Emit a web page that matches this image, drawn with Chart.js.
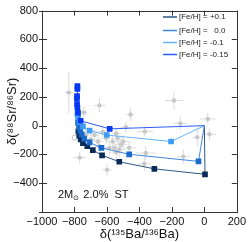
<!DOCTYPE html>
<html>
<head>
<meta charset="utf-8">
<script src="https://cdn.jsdelivr.net/npm/chart.js@4"></script>
<style>
  html, body { margin: 0; padding: 0; background: #fff; }
  #wrap { width: 249px; height: 242px; }
</style>
</head>
<body>
<div id="wrap"><canvas id="myChart" width="249" height="242"></canvas></div>
<script>
// axis ticks
let xTicks = [-1000, -800, -600, -400, -200, 0, 200];
let yTicks = [-600, -400, -200, 0, 200, 400, 600, 800];

// measured grains (grey, with error bars)
let grainX    = [-835, -742, -646, -455, -187, -148,  21,  31, -44, -130, -361, -367, -483, -542, -599, -646, -768, -370, -565, -534, -514, -585, -544, -500, -605, -656, -677, -626, -555, -463, -524, -731, -700];
let grainY    = [ 230,   92,  141,   78,  175,   16,  47, -60, -81, -215, -190,  -40,  -11, -184, -307, -143, -222, -265, -110,  -87, -132, -154,  -54, -110,  -87, -110,  -65,  -43, -154, -154, -166,  -65,  -95];
let grainXErr = [  25,   20,   35,   25,   55,   40,  50,  40,  35,   40,   60,   50,   35,   45,   30,   30,   40,   40,   40,   35,   35,   40,   30,   40,   35,   30,   30,   40,   35,   45,   40,   25,   30];
let grainYErr = [ 145,   40,   50,   45,   65,   50,  40,  40,  60,   50,   50,   35,   40,   60,   40,   50,   40,   50,   45,   40,   40,   50,   35,   45,   40,   45,   40,   35,   45,   45,   50,   40,   40];
let openX = [-799];
let openY = [-83];

// models, 2 Msun 2.0% ST
let labelsFeH = ["[Fe/H] = +0.1", "[Fe/H] =   0.0", "[Fe/H] = -0.1", "[Fe/H] = -0.15"];
let modelX1 = [0,    4, -308, -524, -630, -687, -721, -748, -762, -770, -776];
let modelY1 = [0, -338, -300, -251, -206, -170, -143, -121,  -95,  -70,  -40];
let modelX2 = [0,  -36, -463, -634, -707, -740, -755, -765, -772, -778];
let modelY2 = [0, -248, -199, -154, -116,  -90,  -60,  -35,  -10,   20];
let modelX3 = [0, -205, -601, -707, -748, -768, -778, -782];
let modelY3 = [0, -110,  -65,  -34,   -5,   25,   60,   80];
let modelX4 = [0, -583, -762, -778, -782, -784, -785, -784, -782, -782];
let modelY4 = [0,  -22,   34,   90,  125,  150,  190,  205,  255,  275];

let lineColors = ["#2f5585", "#3d88dc", "#66b3ff", "#2a5cff"];
let markColors = ["#0a2b58", "#1a6acb", "#3e9cf4", "#0638f2"];

function toPoints(xs, ys) {
	return xs.map((x, i) => ({ x: x, y: ys[i] }));
}
function fmt(v) {
	return String(v).replace("-", "\u2212");
}

const FONT = "'Liberation Sans', Arial, Helvetica, sans-serif";

// error bars behind the grey points
const errorBars = {
	id: "errorBars",
	beforeDatasetsDraw(chart) {
		const c = chart.ctx, xs = chart.scales.x, ys = chart.scales.y;
		c.save();
		c.strokeStyle = "#dcdcdc";
		c.lineWidth = 1;
		grainX.forEach((gx, i) => {
			const px = xs.getPixelForValue(gx), py = ys.getPixelForValue(grainY[i]);
			c.beginPath();
			c.moveTo(xs.getPixelForValue(gx - grainXErr[i]), py);
			c.lineTo(xs.getPixelForValue(gx + grainXErr[i]), py);
			c.moveTo(px, ys.getPixelForValue(grainY[i] - grainYErr[i]));
			c.lineTo(px, ys.getPixelForValue(grainY[i] + grainYErr[i]));
			c.stroke();
		});
		c.restore();
	}
};

// frame, inward ticks, legend and the label
const frame = {
	id: "frame",
	afterDraw(chart) {
		const c = chart.ctx, a = chart.chartArea, xs = chart.scales.x, ys = chart.scales.y;
		c.save();
		c.strokeStyle = "#333";
		c.lineWidth = 1;
		c.strokeRect(Math.round(a.left) + 0.5, Math.round(a.top) + 0.5, Math.round(a.right - a.left), Math.round(a.bottom - a.top));
		c.beginPath();
		xTicks.forEach((t) => {
			const px = Math.round(xs.getPixelForValue(t)) + 0.5;
			c.moveTo(px, a.bottom); c.lineTo(px, a.bottom - 5);
			c.moveTo(px, a.top); c.lineTo(px, a.top + 5);
		});
		yTicks.forEach((t) => {
			const py = Math.round(ys.getPixelForValue(t)) + 0.5;
			c.moveTo(a.left - 3, py); c.lineTo(a.left + 5, py);
			c.moveTo(a.right, py); c.lineTo(a.right - 5, py);
		});
		c.stroke();

		// legend
		c.font = "8px " + FONT;
		c.textBaseline = "middle";
		c.fillStyle = "#222";
		const rows = [17, 30.5, 42.5, 54.5];
		labelsFeH.forEach((lab, i) => {
			c.strokeStyle = lineColors[i];
			c.lineWidth = 1.5;
			c.beginPath();
			c.moveTo(163, rows[i]); c.lineTo(177, rows[i]);
			c.stroke();
			c.fillText(lab, 179, rows[i]);
		});

		// 2Msun label
		c.font = "11px " + FONT;
		c.textBaseline = "alphabetic";
		c.fillStyle = "#111";
		let x0 = 58, y0 = 198;
		c.fillText("2M", x0, y0);
		let w = c.measureText("2M").width;
		c.font = "7px " + FONT;
		c.fillText("\u2299", x0 + w, y0 + 2);
		let w2 = c.measureText("\u2299").width;
		c.font = "11px " + FONT;
		c.fillText(" 2.0%  ST", x0 + w + w2 + 1, y0);
		c.restore();
	}
};

function modelSet(xs, ys, i) {
	return {
		data: toPoints(xs, ys),
		showLine: true,
		borderColor: lineColors[i],
		borderWidth: 1,
		pointStyle: "rect",
		pointRadius: (ctx) => ctx.dataIndex === 0 ? 0 : 4,
		pointBackgroundColor: markColors[i],
		pointBorderColor: markColors[i],
		pointBorderWidth: 0,
		order: 4 - i
	};
}

const config = {
	type: "scatter",
	data: {
		datasets: [
			{
				data: toPoints(grainX, grainY),
				pointRadius: 2.2,
				pointBackgroundColor: "#c8c8c8",
				pointBorderColor: "#c8c8c8",
				pointBorderWidth: 0,
				order: 10
			},
			{
				data: toPoints(openX, openY),
				pointRadius: 2.5,
				pointBackgroundColor: "#ffffff",
				pointBorderColor: "#bdbdbd",
				pointBorderWidth: 1,
				order: 9
			},
			modelSet(modelX1, modelY1, 0),
			modelSet(modelX2, modelY2, 1),
			modelSet(modelX3, modelY3, 2),
			modelSet(modelX4, modelY4, 3)
		]
	},
	options: {
		responsive: false,
		animation: false,
		layout: { padding: { top: 5, right: 10, left: 0, bottom: 0 } },
		plugins: { legend: { display: false }, tooltip: { enabled: false } },
		scales: {
			x: {
				type: "linear",
				min: -1000, max: 200,
				afterFit: (s) => { s.height = 30; },
				afterBuildTicks: (s) => { s.ticks = xTicks.map((v) => ({ value: v })); },
				grid: { display: false, drawTicks: false },
				border: { display: false },
				ticks: { color: "#111", padding: 3, maxRotation: 0, autoSkip: false, font: { family: FONT, size: 11 }, callback: (v) => fmt(v) },
				title: { display: true, text: "\u03b4(\u00b9\u00b3\u2075Ba/\u00b9\u00b3\u2076Ba)", color: "#111", padding: 0, font: { family: FONT, size: 13 } }
			},
			y: {
				type: "linear",
				min: -600, max: 800,
				afterFit: (s) => { s.width = 42; },
				afterBuildTicks: (s) => { s.ticks = yTicks.map((v) => ({ value: v })); },
				grid: { display: false, drawTicks: false },
				border: { display: false },
				ticks: { color: "#111", padding: 4, autoSkip: false, font: { family: FONT, size: 11 }, callback: (v) => v === -600 ? "" : fmt(v) },
				title: { display: true, text: "\u03b4(\u2078\u2078Sr/\u2078\u2076Sr)", color: "#111", padding: { top: 5, bottom: 0 }, font: { family: FONT, size: 13 } }
			}
		}
	},
	plugins: [errorBars, frame]
};

const ctx = document.getElementById("myChart").getContext("2d");
const myChart = new Chart(ctx, config);
</script>
</body>
</html>
